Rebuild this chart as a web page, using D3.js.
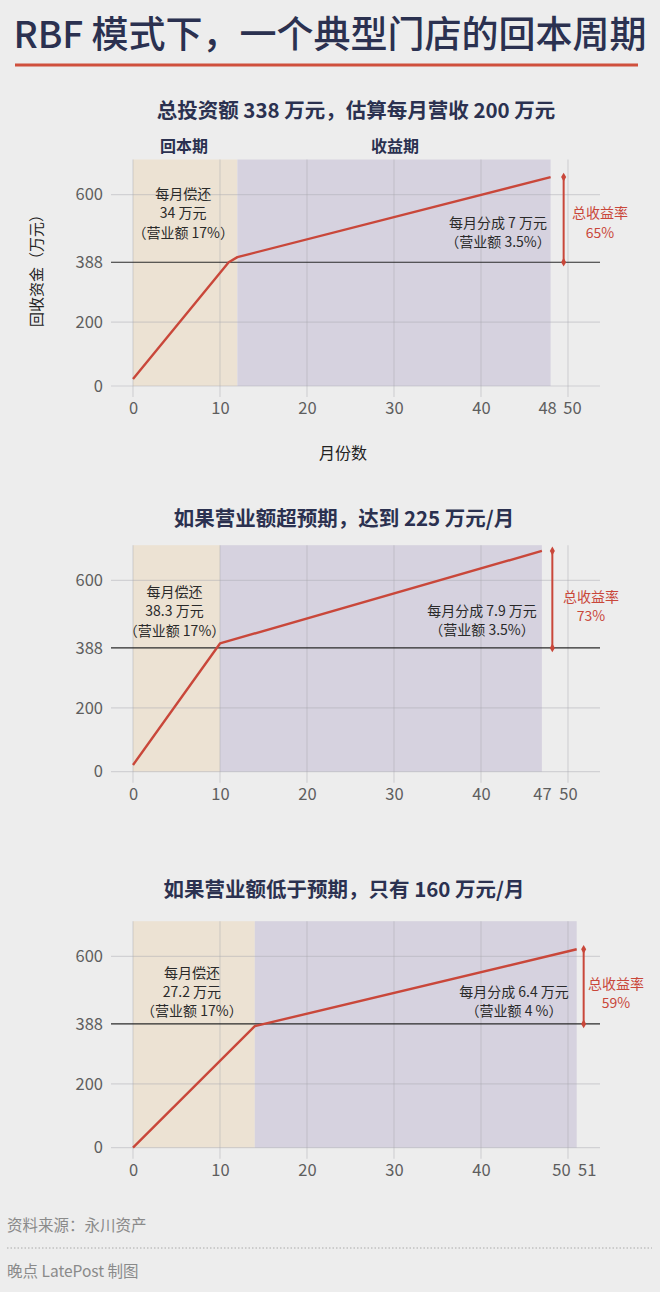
<!DOCTYPE html>
<html><head><meta charset="utf-8">
<script src="https://cdn.jsdelivr.net/npm/d3@7/dist/d3.min.js"></script>
<style>
html,body{margin:0;padding:0;background:#ededed;}
svg{display:block;font-family:"Noto Sans CJK SC","Noto Sans",sans-serif;}
</style></head>
<body><svg id="c" width="660" height="1292"></svg>
<script>
// ---------- data ----------
const mainTitle = "RBF 模式下，一个典型门店的回本周期";
const chartTitles = ["总投资额 338 万元，估算每月营收 200 万元", "如果营业额超预期，达到 225 万元/月", "如果营业额低于预期，只有 160 万元/月"];
const totalMonths = [48, 47, 51];
const paybackMonths = [12, 10, 14];
const lineMonths = [[0, 11, 12, 48], [0, 10, 47], [0, 14, 51]];
const lineValues = [[22, 388, 404, 655], [21, 402, 692], [0, 381, 622]];
const breakEven = 388;
const yTicks = [0, 200, 388, 600];
const gridX = [0, 10, 20, 30, 40, 50];
const xTickSets = [[0, 10, 20, 30, 40, 48, 50], [0, 10, 20, 30, 40, 47, 50], [0, 10, 20, 30, 40, 50, 51]];
const repayLabels = [["每月偿还", "34 万元", "（营业额 17%）"], ["每月偿还", "38.3 万元", "（营业额 17%）"], ["每月偿还", "27.2 万元", "（营业额 17%）"]];
const shareLabels = [["每月分成 7 万元", "（营业额 3.5%）"], ["每月分成 7.9 万元", "（营业额 3.5%）"], ["每月分成 6.4 万元", "（营业额 4 %）"]];
const returnRates = ["65%", "73%", "59%"];
const rateLabel = "总收益率";
const phaseLabels = ["回本期", "收益期"];
const yAxisLabel = "回收资金（万元）";
const xAxisLabel = "月份数";
const sourceText = "资料来源：永川资产";
const creditText = "晚点 LatePost 制图";

// ---------- layout ----------
const zeroY = [386, 771.7, 1147.7];
const titleY = [109, 517, 888];
const arrowMonths = [49.5, 48.2, 51.8];
const repayDy = [[-193, -174, -154.5], [-181, -161.5, -142], [-176, -157, -137.5]];
const shareX = [498, 482, 514];
const shareDy = [[-164.5, -145.5], [-162, -143], [-157, -137.7]];
const rateX = [600, 591, 616];
const rateDy = [[-174, -154], [-176, -156.5], [-164.5, -146]];
const tickDx = [{48: -3.5, 50: 4}, {}, {50: -7, 51: 10}];
const pxPerUnit = 0.319;
const yTop = 710;

const svg = d3.select("#c");
const red = "#c9473a";
const navy = "#2b3150";

svg.append("rect").attr("width", 660).attr("height", 1292).attr("fill", "#ededed");

// main title
svg.append("text").attr("x", 330).attr("y", 32).attr("text-anchor", "middle")
  .attr("dominant-baseline", "central").attr("font-size", 37).attr("font-weight", 500)
  .attr("fill", navy).text(mainTitle);
svg.append("rect").attr("x", 15).attr("y", 63.5).attr("width", 623).attr("height", 3).attr("fill", "#d0503d");

const x = d3.scaleLinear().domain([0, 50]).range([133, 568]);
const xLeft = 111, xRight = 600;

chartTitles.forEach((t, i) => {
  const z = zeroY[i];
  const y = d3.scaleLinear().domain([0, yTop]).range([z, z - yTop * pxPerUnit]);
  const g = svg.append("g");

  g.append("text").attr("x", 356 - (i ? 12 : 0)).attr("y", titleY[i]).attr("text-anchor", "middle")
    .attr("dominant-baseline", "central").attr("font-size", 20.5).attr("font-weight", 700)
    .attr("fill", navy).text(t);

  // shading
  g.append("rect").attr("x", x(0)).attr("y", y(yTop)).attr("width", x(paybackMonths[i]) - x(0))
    .attr("height", y(0) - y(yTop)).attr("fill", "#ece2d3");
  g.append("rect").attr("x", x(paybackMonths[i])).attr("y", y(yTop))
    .attr("width", x(totalMonths[i]) - x(paybackMonths[i]))
    .attr("height", y(0) - y(yTop)).attr("fill", "#d6d2df");

  // vertical gridlines
  g.selectAll(".vg").data(gridX).join("line")
    .attr("x1", d => x(d)).attr("x2", d => x(d))
    .attr("y1", y(yTop)).attr("y2", y(0) + 11)
    .attr("stroke", "#a8a8b0").attr("stroke-opacity", 0.4).attr("stroke-width", 1.2);
  // horizontal gridlines
  g.selectAll(".hg").data(yTicks.filter(d => d !== breakEven)).join("line")
    .attr("x1", xLeft).attr("x2", xRight).attr("y1", d => y(d)).attr("y2", d => y(d))
    .attr("stroke", "#a8a8b0").attr("stroke-opacity", 0.4).attr("stroke-width", 1.2);
  // break-even line
  g.append("line").attr("x1", xLeft).attr("x2", xRight).attr("y1", y(breakEven)).attr("y2", y(breakEven))
    .attr("stroke", "#2a2a2a").attr("stroke-width", 1.2);

  // axes (labels)
  const ya = d3.axisLeft(y).tickValues(yTicks).tickSize(0).tickPadding(0).tickFormat(d3.format("d"));
  const yg = g.append("g").attr("transform", `translate(103,0)`).call(ya);
  yg.select(".domain").remove();
  yg.selectAll("text").attr("font-size", 16.5).attr("fill", "#5e5e5e")
    .attr("font-family", "'Noto Sans CJK SC','Noto Sans',sans-serif");

  const xa = d3.axisBottom(x).tickValues(xTickSets[i]).tickSize(0).tickPadding(0).tickFormat(d3.format("d"));
  const xg = g.append("g").attr("transform", `translate(0,${z + 23})`).call(xa);
  xg.select(".domain").remove();
  xg.selectAll("text").attr("font-size", 16.5).attr("fill", "#5e5e5e").attr("dy", "0.3em")
    .attr("font-family", "'Noto Sans CJK SC','Noto Sans',sans-serif")
    .attr("dx", d => tickDx[i][d] || 0);

  // red line
  const pts = lineMonths[i].map((m, k) => [m, lineValues[i][k]]);
  g.append("path").datum(pts)
    .attr("d", d3.line().x(d => x(d[0])).y(d => y(d[1])))
    .attr("fill", "none").attr("stroke", red).attr("stroke-width", 2.4).attr("stroke-linejoin", "round");

  // return arrow
  const endV = lineValues[i][lineValues[i].length - 1];
  const ax = x(arrowMonths[i]);
  g.append("line").attr("x1", ax).attr("x2", ax).attr("y1", y(breakEven)).attr("y2", y(endV))
    .attr("stroke", red).attr("stroke-width", 2);
  [breakEven, endV].forEach(v => {
    g.append("path").attr("d", d3.symbol(d3.symbolDiamond, 22)())
      .attr("transform", `translate(${ax},${y(v)})`).attr("fill", red);
  });

  // rate label
  [rateLabel, returnRates[i]].forEach((s, k) => {
    g.append("text").attr("x", rateX[i]).attr("y", z + rateDy[i][k]).attr("text-anchor", "middle")
      .attr("dominant-baseline", "central").attr("font-size", 14).attr("fill", red).text(s);
  });

  // repay label
  const rx = (x(0) + x(paybackMonths[i])) / 2 - 2;
  repayLabels[i].forEach((s, k) => {
    g.append("text").attr("x", rx).attr("y", z + repayDy[i][k]).attr("text-anchor", "middle")
      .attr("dominant-baseline", "central").attr("font-size", 14).attr("fill", "#2a2a2a").text(s);
  });
  // share label
  shareLabels[i].forEach((s, k) => {
    g.append("text").attr("x", shareX[i]).attr("y", z + shareDy[i][k]).attr("text-anchor", "middle")
      .attr("dominant-baseline", "central").attr("font-size", 14).attr("fill", "#2a2a2a").text(s);
  });

  if (i === 0) {
    g.append("text").attr("x", 184).attr("y", 145).attr("text-anchor", "middle")
      .attr("dominant-baseline", "central").attr("font-size", 16).attr("font-weight", 700)
      .attr("fill", navy).text(phaseLabels[0]);
    g.append("text").attr("x", 395).attr("y", 145).attr("text-anchor", "middle")
      .attr("dominant-baseline", "central").attr("font-size", 16).attr("font-weight", 700)
      .attr("fill", navy).text(phaseLabels[1]);
    g.append("text").attr("transform", "translate(35,267) rotate(-90)").attr("text-anchor", "middle")
      .attr("dominant-baseline", "central").attr("font-size", 15).attr("fill", "#222").text(yAxisLabel);
    g.append("text").attr("x", 343).attr("y", 452).attr("text-anchor", "middle")
      .attr("dominant-baseline", "central").attr("font-size", 16).attr("fill", "#222").text(xAxisLabel);
  }
});

// footer
svg.append("text").attr("x", 7).attr("y", 1224).attr("dominant-baseline", "central")
  .attr("font-size", 15.5).attr("fill", "#8a8a8a").text(sourceText);
svg.append("line").attr("x1", 7).attr("x2", 652).attr("y1", 1248).attr("y2", 1248)
  .attr("stroke", "#aaa").attr("stroke-width", 1).attr("stroke-dasharray", "1.5,2");
svg.append("text").attr("x", 7).attr("y", 1270).attr("dominant-baseline", "central")
  .attr("font-size", 15.5).attr("fill", "#8a8a8a").text(creditText);
</script></body></html>
